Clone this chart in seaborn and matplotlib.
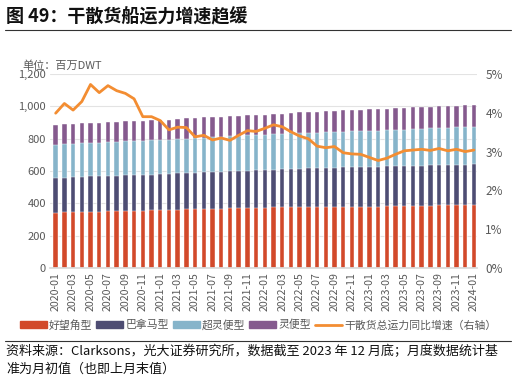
import numpy as np
import pandas as pd
import matplotlib
matplotlib.use("Agg")
import matplotlib.pyplot as plt
from matplotlib.patches import Patch
from matplotlib.lines import Line2D
import seaborn as sns

# month labels 2020-01 .. 2024-01
months = [f"{y}-{m:02d}" for y in range(2020, 2024) for m in range(1, 13)] + ["2024-01"]

# 百万DWT
capesize = [342, 344, 345, 347, 348, 349, 350, 351, 352, 353, 354, 356,
            358, 359, 361, 362, 364, 365, 366, 367, 369, 370, 371, 373,
            374, 375, 375, 376, 376, 377, 377, 378, 378, 378, 379, 379,
            379, 380, 381, 382, 383, 384, 385, 386, 387, 388, 388, 389,
            390]
panamax = [214, 215, 216, 217, 218, 219, 220, 220, 221, 221, 222, 222,
           222, 223, 224, 225, 226, 227, 228, 229, 230, 231, 231, 232,
           232, 233, 235, 237, 238, 240, 241, 242, 243, 244, 245, 246,
           247, 247, 248, 248, 248, 249, 249, 250, 250, 250, 251, 251,
           251]
supramax = [205, 206, 206, 207, 208, 208, 209, 209, 210, 210, 211, 211,
            212, 212, 213, 214, 214, 215, 216, 216, 217, 217, 218, 218,
            219, 219, 219, 220, 220, 220, 220, 221, 221, 221, 221, 221,
            221, 222, 223, 224, 225, 226, 227, 228, 229, 230, 231, 232,
            233]
handysize = [123, 123, 123, 123, 124, 124, 124, 124, 124, 124, 124, 124,
             124, 124, 124, 124, 124, 124, 124, 124, 124, 124, 124, 124,
             124, 125, 126, 127, 128, 129, 130, 131, 132, 132, 133, 133,
             134, 134, 134, 134, 134, 134, 134, 134, 134, 134, 134, 134,
             134]
# 同比增速 (%)
growth = [3.99, 4.24, 4.07, 4.29, 4.73, 4.52, 4.70, 4.57, 4.50, 4.36, 3.90, 3.90,
          3.80, 3.56, 3.63, 3.62, 3.38, 3.42, 3.30, 3.35, 3.29, 3.42, 3.54, 3.52,
          3.60, 3.69, 3.64, 3.51, 3.40, 3.33, 3.14, 3.10, 3.13, 2.97, 2.94, 2.93,
          2.85, 2.77, 2.83, 2.93, 3.02, 3.04, 3.06, 3.03, 3.08, 3.02, 3.06, 3.00,
          3.04]

series_names = ["好望角型", "巴拿马型", "超灵便型", "灵便型"]
colors = ["#D2492A", "#4E4D73", "#86B4CA", "#855A8E"]
line_color = "#F38D32"
grey = "#595959"

sns.set_theme(style="white")
plt.rcParams["font.family"] = ["Noto Sans CJK SC", "DejaVu Sans"]

df = pd.DataFrame({"month": months, "好望角型": capesize, "巴拿马型": panamax,
                   "超灵便型": supramax, "灵便型": handysize, "growth": growth})
stack = df[series_names].cumsum(axis=1)

fig = plt.figure(figsize=(5.16, 3.81), dpi=100)
ax = fig.add_axes([50 / 516, 1 - 268 / 381, 427 / 516, 194 / 381])

# draw cumulative tops first so lower layers sit on top
for name, c in reversed(list(zip(series_names, colors))):
    sns.barplot(x=df["month"], y=stack[name], color=c, width=0.5,
                saturation=1, ax=ax, edgecolor="white", linewidth=0.3)

ax.set_xlim(-0.65, 48.35)
ax.set_ylim(0, 1200)
ax.set_yticks(range(0, 1201, 200))
ax.set_yticklabels([f"{v:,}" for v in range(0, 1201, 200)])
ax.set_xticks(range(0, 49, 2))
ax.set_xticklabels(months[::2], rotation=90)
ax.set_xlabel("")
ax.set_ylabel("")
ax.grid(axis="y", color="#E3E3E3", linewidth=0.8)
ax.set_axisbelow(True)
for s in ["left", "right", "top"]:
    ax.spines[s].set_visible(False)
ax.spines["bottom"].set_color("#D9D9D9")
ax.tick_params(axis="both", colors=grey, labelsize=8, length=0, pad=3)
ax.tick_params(axis="x", labelsize=7.6)

ax2 = ax.twinx()
sns.lineplot(x=np.arange(len(months)), y=df["growth"], color=line_color,
             linewidth=2.0, ax=ax2)
ax2.set_ylim(0, 5)
ax2.set_yticks(range(0, 6))
ax2.set_yticklabels([f"{v}%" for v in range(0, 6)])
ax2.set_ylabel("")
for s in ax2.spines.values():
    s.set_visible(False)
ax2.tick_params(axis="y", colors=grey, labelsize=8.5, length=0, pad=6)

# title, unit, source
fig.text(0.012, 0.955, "图 49：干散货船运力增速趋缓", fontsize=13, fontweight="bold",
         color="#111111", va="center")
fig.add_artist(Line2D([0.01, 0.99], [0.921, 0.921], color="#333333", linewidth=0.8))
fig.text(0.043, 0.828, "单位：百万DWT", fontsize=8, color=grey, va="center")

handles = [Patch(color=c) for c in colors] + [Line2D([], [], color=line_color, linewidth=2)]
labels = series_names + ["干散货总运力同比增速（右轴）"]
fig.legend(handles, labels, loc="center", bbox_to_anchor=(0.5, 0.147), ncol=5,
           frameon=False, fontsize=7.8, handlelength=2.5, handleheight=0.7,
           handletextpad=0.2, columnspacing=0.35, labelcolor=grey)

fig.add_artist(Line2D([0.01, 0.99], [0.105, 0.105], color="#333333", linewidth=0.8))
fig.text(0.012, 0.078, "资料来源：Clarksons，光大证券研究所，数据截至 2023 年 12 月底；月度数据统计基",
         fontsize=9.4, color="#111111", va="center")
fig.text(0.012, 0.03, "准为月初值（也即上月末值）", fontsize=9.4, color="#111111", va="center")

fig.savefig("out.png", dpi=100)
